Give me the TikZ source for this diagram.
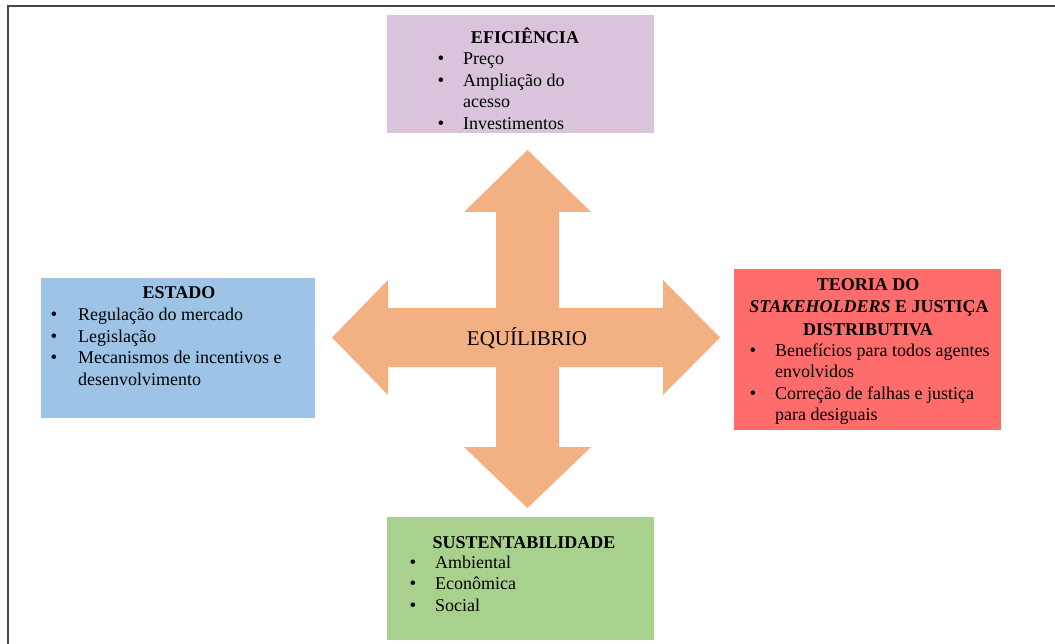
\documentclass[tikz,border=0pt]{standalone}
\usepackage{fontspec}
\setmainfont{Liberation Serif}
\begin{document}
\begin{tikzpicture}[x=1pt,y=-1pt,
  box/.style={draw=none,fill=#1,anchor=north west,inner sep=0pt},
  head/.style={font=\fontsize{18}{21}\selectfont\bfseries,anchor=base,inner sep=0pt},
  item/.style={font=\fontsize{18}{21}\selectfont,anchor=base west,inner sep=0pt},
  dot/.style={font=\fontsize{19}{21}\selectfont,anchor=base,inner sep=0pt}]
\definecolor{efic}{RGB}{218,196,220}
\definecolor{estado}{RGB}{157,195,230}
\definecolor{teoria}{RGB}{255,108,108}
\definecolor{sust}{RGB}{169,209,142}
\definecolor{cross}{RGB}{243,177,131}
\definecolor{frame}{RGB}{70,70,70}
\useasboundingbox (0,0) rectangle (1055,644);
\fill[white] (0,0) rectangle (1055,644);
% frame edges
\draw[frame,line width=1.5pt] (8,644) -- (8,6) -- (1055,6);

% four-way arrow
\fill[cross] (496,308) -- (496,212) -- (464,212) -- (527.5,150) -- (591,212) -- (559,212)
  -- (559,308) -- (663,308) -- (663,280) -- (720,337.5) -- (663,395) -- (663,367)
  -- (559,367) -- (559,447) -- (591,447) -- (527.5,508) -- (464,447) -- (496,447)
  -- (496,367) -- (388,367) -- (388,395) -- (332,337.5) -- (388,280) -- (388,308) -- cycle;
\node[font=\fontsize{21}{24}\selectfont,inner sep=0pt] (eq) at (527,338) {EQUÍLIBRIO};

% EFICIÊNCIA
\node[box=efic,minimum width=267pt,minimum height=118pt] (bef) at (387,15) {};
\node[head] (hef) at (525,44) {EFICIÊNCIA};
\node[dot] (d1) at (441,65) {•};
\node[item] (i1) at (463,65) {Preço};
\node[dot] (d2) at (441,86.5) {•};
\node[item] (i2) at (463,86.5) {Ampliação do};
\node[item] (i3) at (463,108) {acesso};
\node[dot] (d3) at (441,129.5) {•};
\node[item] (i4) at (463,129.5) {Investimentos};

% ESTADO
\node[box=estado,minimum width=274pt,minimum height=140pt] (bes) at (41,278) {};
\node[head] (hes) at (179,299) {ESTADO};
\node[dot] (e1) at (54,320) {•};
\node[item] (j1) at (78,320) {Regulação do mercado};
\node[dot] (e2) at (54,342) {•};
\node[item] (j2) at (78,342) {Legislação};
\node[dot] (e3) at (54,363.5) {•};
\node[item] (j3) at (78,363.5) {Mecanismos de incentivos e};
\node[item] (j4) at (78,385) {desenvolvimento};

% TEORIA DO STAKEHOLDERS
\node[box=teoria,minimum width=267pt,minimum height=161pt] (bte) at (734,269) {};
\node[head] (ht1) at (868,291) {TEORIA DO};
\node[head] (ht2) at (869,313) {\textit{STAKEHOLDERS} E JUSTIÇA};
\node[head] (ht3) at (868,335) {DISTRIBUTIVA};
\node[dot] (t1) at (753,356) {•};
\node[item] (k1) at (775,356) {Benefícios para todos agentes};
\node[item] (k2) at (775,377.5) {envolvidos};
\node[dot] (t2) at (753,399) {•};
\node[item] (k3) at (775,399) {Correção de falhas e justiça};
\node[item] (k4) at (775,420.5) {para desiguais};

% SUSTENTABILIDADE
\node[box=sust,minimum width=267pt,minimum height=123pt] (bsu) at (387,517) {};
\node[head] (hsu) at (524,548) {SUSTENTABILIDADE};
\node[dot] (s1) at (413,568) {•};
\node[item] (l1) at (435,568) {Ambiental};
\node[dot] (s2) at (413,589.5) {•};
\node[item] (l2) at (435,589.5) {Econômica};
\node[dot] (s3) at (413,611) {•};
\node[item] (l3) at (435,611) {Social};
\end{tikzpicture}
\end{document}
